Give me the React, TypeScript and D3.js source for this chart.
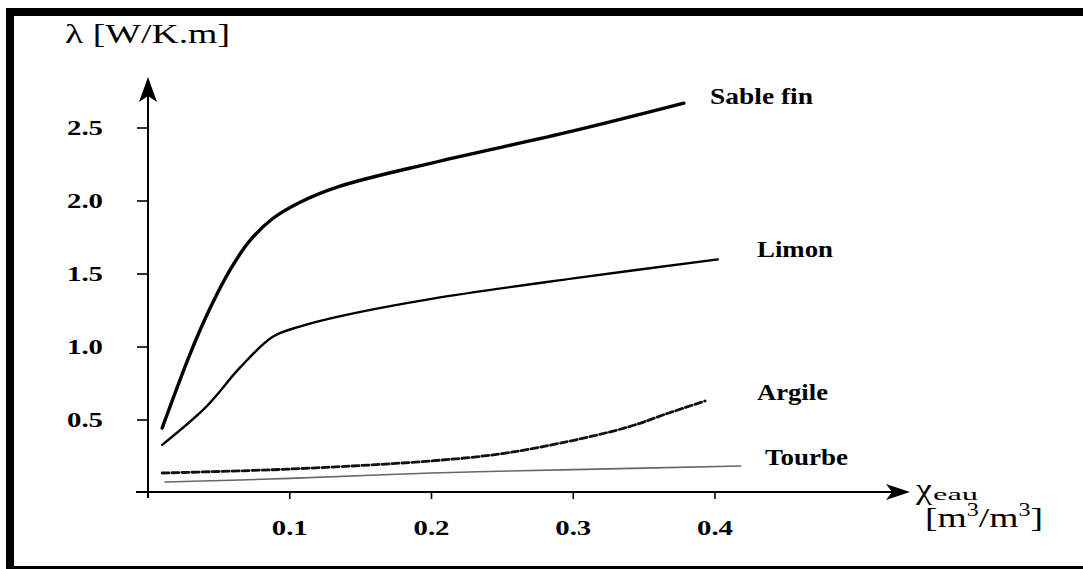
import React from "react";
import * as d3 from "d3";

const xTicks = [0.1, 0.2, 0.3, 0.4];
const yTicks = [0.5, 1.0, 1.5, 2.0, 2.5];

const sableX = [0.01, 0.03, 0.044, 0.058, 0.072, 0.088, 0.107, 0.135, 0.2, 0.3, 0.378];
const sableY = [0.445, 0.96, 1.27, 1.53, 1.73, 1.88, 1.99, 2.1, 2.26, 2.48, 2.67];

const limonX = [0.01, 0.041, 0.065, 0.088, 0.107, 0.135, 0.2, 0.3, 0.402];
const limonY = [0.33, 0.59, 0.86, 1.07, 1.14, 1.21, 1.33, 1.47, 1.6];

const argileX = [0.01, 0.1, 0.2, 0.25, 0.29, 0.338, 0.368, 0.393];
const argileY = [0.137, 0.164, 0.22, 0.27, 0.34, 0.45, 0.55, 0.63];

const tourbeX = [0.012, 0.1, 0.2, 0.3, 0.418];
const tourbeY = [0.075, 0.1, 0.137, 0.16, 0.185];

const seriesNames = ["Sable fin", "Limon", "Argile", "Tourbe"];

const FONT = "Liberation Serif, Times New Roman, DejaVu Serif, serif";

export default function App() {
  const x = d3.scaleLinear().domain([0, 0.4]).range([148, 715]);
  const y = d3.scaleLinear().domain([0, 2.5]).range([493, 128]);
  const line = d3
    .line<[number, number]>()
    .x((d) => x(d[0]))
    .y((d) => y(d[1]))
    .curve(d3.curveCatmullRom.alpha(0.5));
  const zip = (a: number[], b: number[]) => a.map((v, i) => [v, b[i]] as [number, number]);

  const series = [
    { name: seriesNames[0], pts: zip(sableX, sableY), w: 3.4, color: "#000", dash: "", lx: 710, ly: 104, tl: 103 },
    { name: seriesNames[1], pts: zip(limonX, limonY), w: 2.4, color: "#000", dash: "", lx: 757, ly: 257, tl: 76 },
    { name: seriesNames[2], pts: zip(argileX, argileY), w: 2.8, color: "#111", dash: "7,3", lx: 757, ly: 400, tl: 71 },
    { name: seriesNames[3], pts: zip(tourbeX, tourbeY), w: 1.6, color: "#666", dash: "", lx: 765, ly: 465, tl: 83 },
  ];

  const x0 = 148;
  const y0 = y(0) - 1;

  return (
    <svg
      width={1083}
      height={569}
      style={{ position: "absolute", left: 0, top: 0, background: "#fff" }}
      fontFamily={FONT}
    >
      <rect x={0} y={0} width={1083} height={569} fill="#fff" />
      {/* frame */}
      <rect x={10} y={12} width={1100} height={558} fill="none" stroke="#000" strokeWidth={8} />

      {/* y axis */}
      <line x1={x0} x2={x0} y1={498} y2={96} stroke="#000" strokeWidth={2} />
      <path d={`M${x0},77 L${x0 + 9},102 L${x0},96 L${x0 - 9},102 Z`} fill="#000" />
      {yTicks.map((t) => (
        <g key={t}>
          <line x1={x0 - 11} x2={x0} y1={y(t)} y2={y(t)} stroke="#000" strokeWidth={1.6} />
          <text
            x={103}
            y={y(t) + 7}
            textAnchor="end"
            fontWeight="bold"
            fontSize={20}
            textLength={36}
            lengthAdjust="spacingAndGlyphs"
          >
            {t.toFixed(1)}
          </text>
        </g>
      ))}

      {/* x axis */}
      <line x1={136} x2={892} y1={y0} y2={y0} stroke="#000" strokeWidth={2} />
      <path d={`M910,${y0} L886,${y0 - 8} L892,${y0} L886,${y0 + 8} Z`} fill="#000" />
      {xTicks.map((t) => (
        <g key={t}>
          <line x1={x(t)} x2={x(t)} y1={y0} y2={y0 + 7} stroke="#000" strokeWidth={1.6} />
          <text
            x={x(t)}
            y={535}
            textAnchor="middle"
            fontWeight="bold"
            fontSize={20}
            textLength={36}
            lengthAdjust="spacingAndGlyphs"
          >
            {t.toFixed(1)}
          </text>
        </g>
      ))}

      {/* axis titles */}
      <text x={65} y={43} fontSize={27} textLength={165} lengthAdjust="spacingAndGlyphs">
        λ [W/K.m]
      </text>
      <text x={916} y={499} fontSize={30} textLength={16} lengthAdjust="spacingAndGlyphs">
        χ
      </text>
      <text x={933} y={500} fontSize={16} textLength={45} lengthAdjust="spacingAndGlyphs">
        eau
      </text>
      <text x={925} y={527} fontSize={28} textLength={118} lengthAdjust="spacingAndGlyphs">
        [m<tspan fontSize={18} dy={-11}>3</tspan>
        <tspan dy={11}>/m</tspan>
        <tspan fontSize={18} dy={-11}>3</tspan>
        <tspan dy={11}>]</tspan>
      </text>

      {/* curves */}
      {series.map((s) => (
        <g key={s.name}>
          <path
            d={line(s.pts) || ""}
            fill="none"
            stroke={s.color}
            strokeWidth={s.w}
            strokeDasharray={s.dash || undefined}
            strokeLinecap="round"
          />
          <text
            x={s.lx}
            y={s.ly}
            fontWeight="bold"
            fontSize={23}
            textLength={s.tl}
            lengthAdjust="spacingAndGlyphs"
          >
            {s.name}
          </text>
        </g>
      ))}
    </svg>
  );
}
